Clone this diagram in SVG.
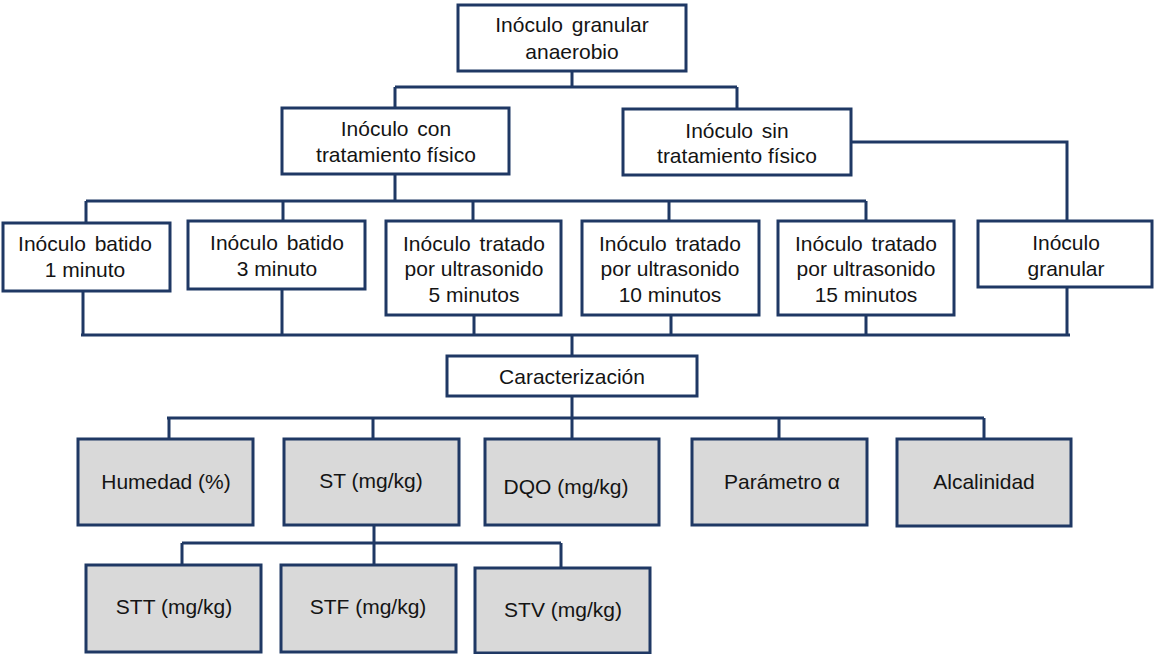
<svg xmlns="http://www.w3.org/2000/svg" width="1154" height="654" viewBox="0 0 1154 654">
  <style>
    .box { fill: #ffffff; stroke: #1f3864; stroke-width: 3; }
    .gray { fill: #d9d9d9; stroke: #1f3864; stroke-width: 3; }
    .wire { fill: none; stroke: #1f3864; stroke-width: 3; stroke-linejoin: miter; }
    text { font-family: "Liberation Sans", Arial, sans-serif; font-size: 21px; fill: #141414; text-anchor: middle; }
    .sp { word-spacing: 3px; }
  </style>

  <!-- connectors -->
  <g id="connectors" class="wire">
    <path d="M572,71 V87 M395,87 H737 M395,87 V108 M737,87 V109"/>
    <path d="M851,142 H1067 V221"/>
    <path d="M395,174 V201 M86,201 H866 M86,201 V223 M283,201 V221 M473,201 V221 M669,201 V221 M866,201 V221"/>
    <path d="M81,335 H1070 M83,291 V335 M282,289 V335 M474,315 V335 M671,315 V335 M866,315 V335 M1067,287 V335"/>
    <path d="M572,335 V356 M572,396 V439"/>
    <path d="M167,418 H984 M169,418 V439 M373,418 V439 M779,418 V439 M984,418 V439"/>
    <path d="M374,525 V565 M182,543 H561 M182,543 V565 M561,543 V568"/>
  </g>

  <g id="n-root">
    <rect class="box" x="458" y="5" width="228" height="66"/>
    <text class="sp" x="572" y="32">Inóculo granular</text>
    <text x="572" y="59">anaerobio</text>
  </g>
  <g id="n-con">
    <rect class="box" x="282" y="108" width="227" height="66"/>
    <text class="sp" x="396" y="136">Inóculo con</text>
    <text x="396" y="162">tratamiento físico</text>
  </g>
  <g id="n-sin">
    <rect class="box" x="623" y="109" width="228" height="66"/>
    <text class="sp" x="737" y="138">Inóculo sin</text>
    <text x="737" y="163">tratamiento físico</text>
  </g>

  <g id="n-b1">
    <rect class="box" x="3" y="223" width="167" height="68"/>
    <text class="sp" x="85" y="251">Inóculo batido</text>
    <text x="85" y="277">1 minuto</text>
  </g>
  <g id="n-b3">
    <rect class="box" x="188" y="221" width="177" height="68"/>
    <text class="sp" x="277" y="250">Inóculo batido</text>
    <text x="277" y="276">3 minuto</text>
  </g>
  <g id="n-u5">
    <rect class="box" x="386" y="221" width="175" height="94"/>
    <text class="sp" x="474" y="251">Inóculo tratado</text>
    <text x="474" y="276">por ultrasonido</text>
    <text x="474" y="302">5 minutos</text>
  </g>
  <g id="n-u10">
    <rect class="box" x="582" y="221" width="177" height="94"/>
    <text class="sp" x="670" y="251">Inóculo tratado</text>
    <text x="670" y="276">por ultrasonido</text>
    <text x="670" y="302">10 minutos</text>
  </g>
  <g id="n-u15">
    <rect class="box" x="778" y="221" width="176" height="94"/>
    <text class="sp" x="866" y="251">Inóculo tratado</text>
    <text x="866" y="276">por ultrasonido</text>
    <text x="866" y="302">15 minutos</text>
  </g>
  <g id="n-granular">
    <rect class="box" x="978" y="221" width="174" height="66"/>
    <text x="1066" y="250">Inóculo</text>
    <text x="1066" y="276">granular</text>
  </g>

  <g id="n-caract">
    <rect class="box" x="447" y="356" width="250" height="40"/>
    <text x="572" y="384">Caracterización</text>
  </g>

  <g id="n-humedad">
    <rect class="gray" x="78" y="439" width="175" height="86"/>
    <text x="166" y="489">Humedad (%)</text>
  </g>
  <g id="n-st">
    <rect class="gray" x="284" y="439" width="175" height="86"/>
    <text x="371" y="488">ST (mg/kg)</text>
  </g>
  <g id="n-dqo">
    <rect class="gray" x="485" y="439" width="174" height="86"/>
    <text x="566" y="494">DQO (mg/kg)</text>
  </g>
  <g id="n-alpha">
    <rect class="gray" x="692" y="439" width="175" height="86"/>
    <text x="782" y="489">Parámetro α</text>
  </g>
  <g id="n-alcal">
    <rect class="gray" x="897" y="439" width="174" height="87"/>
    <text x="984" y="489">Alcalinidad</text>
  </g>

  <g id="n-stt">
    <rect class="gray" x="86" y="565" width="175" height="87"/>
    <text x="174" y="614">STT (mg/kg)</text>
  </g>
  <g id="n-stf">
    <rect class="gray" x="281" y="565" width="175" height="87"/>
    <text x="368" y="614">STF (mg/kg)</text>
  </g>
  <g id="n-stv">
    <rect class="gray" x="475" y="568" width="175" height="85"/>
    <text x="563" y="617">STV (mg/kg)</text>
  </g>
</svg>
